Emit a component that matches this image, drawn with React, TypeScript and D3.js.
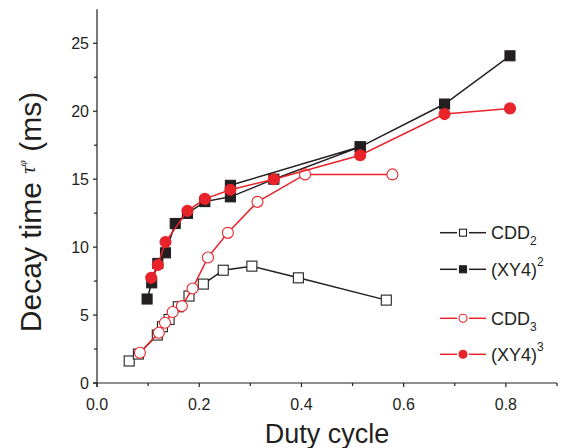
import React from "react";
import * as d3 from "d3";

// ---- data ----
const cdd2X = [0.063, 0.081, 0.118, 0.128, 0.141, 0.159, 0.180, 0.208, 0.247, 0.303, 0.394, 0.566];
const cdd2Y = [1.62, 2.13, 3.53, 4.14, 4.68, 5.61, 6.40, 7.28, 8.30, 8.60, 7.74, 6.10];

// (XY4)^2: plotted in file order (the upper 0.26 point joins the 0.52 point)
const xy42X = [0.098, 0.107, 0.119, 0.134, 0.153, 0.177, 0.211, 0.261, 0.346, 0.515, 0.261, 0.515, 0.680, 0.808];
const xy42Y = [6.18, 7.37, 8.80, 9.58, 11.74, 12.48, 13.35, 13.70, 15.00, 17.38, 14.55, 17.38, 20.53, 24.08];

const cdd3X = [0.084, 0.121, 0.133, 0.148, 0.166, 0.187, 0.217, 0.256, 0.314, 0.407, 0.578];
const cdd3Y = [2.23, 3.70, 4.43, 5.22, 5.66, 6.96, 9.24, 11.05, 13.33, 15.35, 15.35];

const xy43X = [0.106, 0.119, 0.134, 0.177, 0.211, 0.261, 0.346, 0.515, 0.680, 0.808];
const xy43Y = [7.74, 8.68, 10.37, 12.67, 13.55, 14.22, 15.00, 16.76, 19.79, 20.21];

const xTicks = [0, 0.2, 0.4, 0.6, 0.8];
const xMinor = [0.1, 0.3, 0.5, 0.7, 0.9];
const yTicks = [0, 5, 10, 15, 20, 25];
const yMinor = [2.5, 7.5, 12.5, 17.5, 22.5];

const BLACK = "#231f20";
const RED = "#e8232a";
const FONT = "'Liberation Sans', Arial, Helvetica, sans-serif";

type Series = { name: string; sub: string; kind: "sub" | "sup"; xs: number[]; ys: number[]; color: string; shape: "square" | "circle"; filled: boolean };

const series: Series[] = [
  { name: "CDD", sub: "2", kind: "sub", xs: cdd2X, ys: cdd2Y, color: BLACK, shape: "square", filled: false },
  { name: "(XY4)", sub: "2", kind: "sup", xs: xy42X, ys: xy42Y, color: BLACK, shape: "square", filled: true },
  { name: "CDD", sub: "3", kind: "sub", xs: cdd3X, ys: cdd3Y, color: RED, shape: "circle", filled: false },
  { name: "(XY4)", sub: "3", kind: "sup", xs: xy43X, ys: xy43Y, color: RED, shape: "circle", filled: true },
];

const x = d3.scaleLinear().domain([0, 0.9]).range([97, 557]);
const y = d3.scaleLinear().domain([0, 25]).range([383, 43.3]);
const yTop = y(27.5);

function Marker({ cx, cy, s, size }: { cx: number; cy: number; s: Series; size: number }) {
  const fill = s.filled ? s.color : "#ffffff";
  if (s.shape === "square") {
    return <rect x={cx - size / 2} y={cy - size / 2} width={size} height={size} fill={fill} stroke={s.color} strokeWidth={1.1} />;
  }
  return <circle cx={cx} cy={cy} r={size / 2} fill={fill} stroke={s.color} strokeWidth={1.1} />;
}

export default function App() {
  const line = d3.line<number>();
  const legendRows = [232.7, 269.3, 318.3, 354.3];
  return (
    <svg width={567} height={448} style={{ position: "absolute", left: 0, top: 0, background: "#fff" }} fontFamily={FONT}>
      {/* axes */}
      <line x1={x(0)} x2={x(0)} y1={yTop} y2={y(0) + 4} stroke={BLACK} strokeWidth={1.2} />
      <line x1={x(0) - 4} x2={x(0.9)} y1={y(0)} y2={y(0)} stroke={BLACK} strokeWidth={1.2} />
      {xTicks.map((t) => (
        <g key={"xt" + t}>
          <line x1={x(t)} x2={x(t)} y1={y(0)} y2={y(0) + 4} stroke={BLACK} strokeWidth={1.2} />
          <text x={x(t)} y={410} textAnchor="middle" fontSize={16} fill={BLACK}>{d3.format(".1f")(t)}</text>
        </g>
      ))}
      {xMinor.map((t) => (
        <line key={"xm" + t} x1={x(t)} x2={x(t)} y1={y(0)} y2={y(0) + 3} stroke={BLACK} strokeWidth={1.2} />
      ))}
      {yTicks.map((t) => (
        <g key={"yt" + t}>
          <line x1={x(0) - 4} x2={x(0)} y1={y(t)} y2={y(t)} stroke={BLACK} strokeWidth={1.2} />
          <text x={89} y={y(t) + 5.5} textAnchor="end" fontSize={16} fill={BLACK}>{t}</text>
        </g>
      ))}
      {yMinor.map((t) => (
        <line key={"ym" + t} x1={x(0) - 3} x2={x(0)} y1={y(t)} y2={y(t)} stroke={BLACK} strokeWidth={1.2} />
      ))}

      {/* axis titles */}
      <text x={327} y={443} textAnchor="middle" fontSize={27} fill={BLACK}>Duty cycle</text>
      <text transform="translate(41,212) rotate(-90)" textAnchor="middle" fontSize={30} fill={BLACK}>
        Decay time{" "}
        <tspan fontFamily="'Liberation Serif', 'DejaVu Serif', serif" fontStyle="italic" fontSize={21} dy={-6}>τ</tspan>
        <tspan fontFamily="'Liberation Serif', 'DejaVu Serif', serif" fontStyle="italic" fontSize={11} dy={-9}>φ</tspan>
        <tspan dy={15}> (ms)</tspan>
      </text>

      {/* series */}
      {series.map((s, i) => {
        const pts = s.xs.map((v, k) => [x(v), y(s.ys[k])] as [number, number]);
        return (
          <g key={"s" + i}>
            <path d={line(pts) || ""} fill="none" stroke={s.color} strokeWidth={1.5} />
            {pts.map((p, k) => (
              <Marker key={k} cx={p[0]} cy={p[1]} s={s} size={s.shape === "square" ? 10 : 11} />
            ))}
          </g>
        );
      })}

      {/* legend */}
      {series.map((s, i) => {
        const ly = legendRows[i];
        return (
          <g key={"l" + i}>
            <line x1={440} x2={457} y1={ly} y2={ly} stroke={s.color} strokeWidth={1.5} />
            <line x1={469} x2={486} y1={ly} y2={ly} stroke={s.color} strokeWidth={1.5} />
            <Marker cx={463} cy={ly} s={s} size={s.shape === "square" ? 7 : 8} />
            <text x={491} y={ly + 6.5} fontSize={18} fill={BLACK}>
              {s.name}
              <tspan fontSize={12} dy={s.kind === "sub" ? 6 : -10}>{s.sub}</tspan>
            </text>
          </g>
        );
      })}
    </svg>
  );
}
